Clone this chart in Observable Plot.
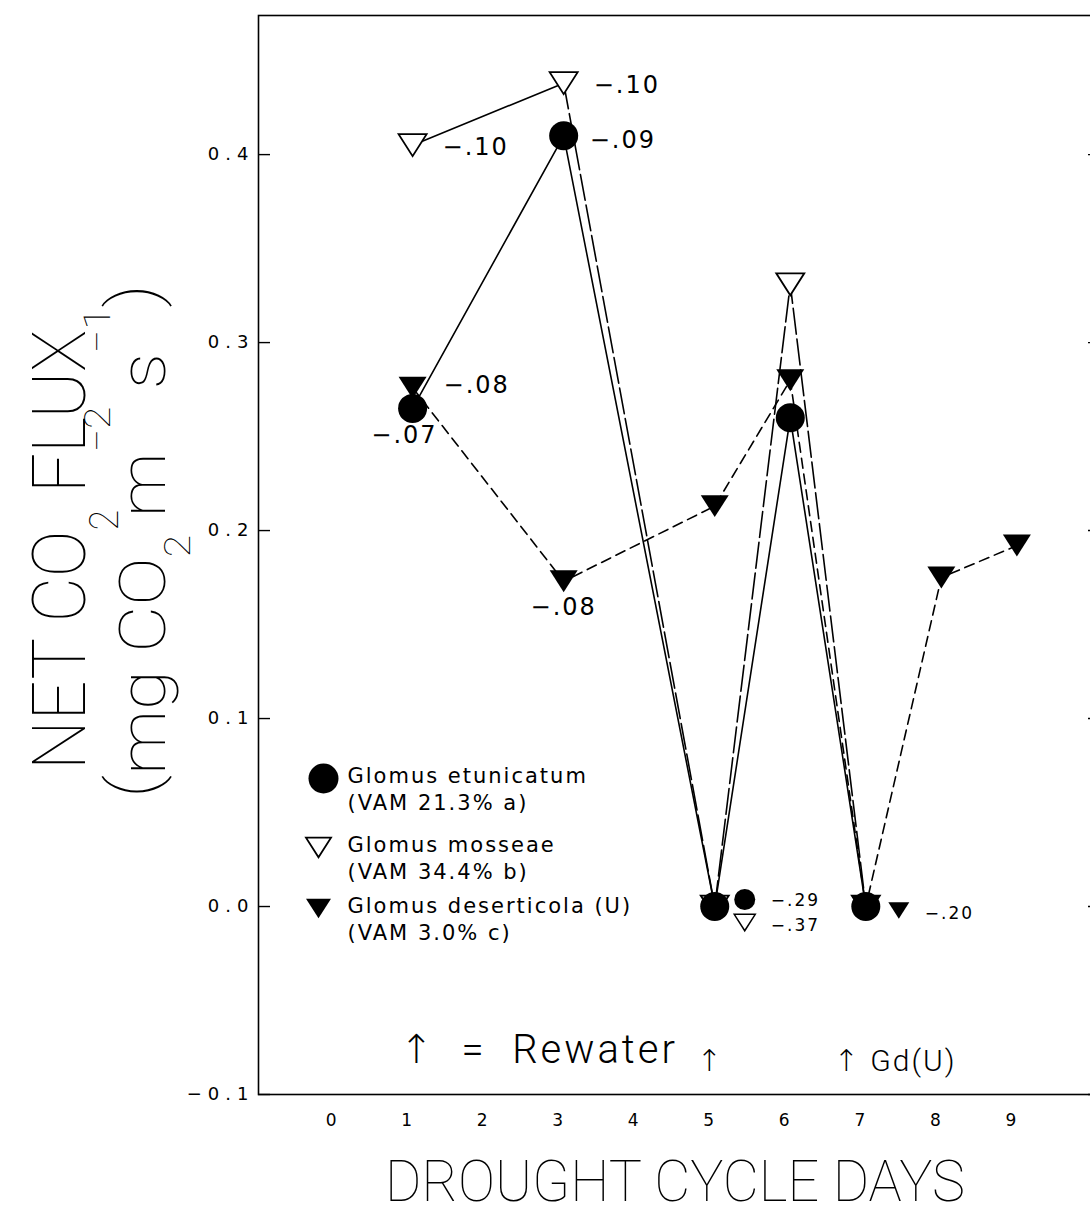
<!DOCTYPE html>
<html>
<head>
<meta charset="utf-8">
<script src="https://cdn.jsdelivr.net/npm/d3@7"></script>
<script src="https://cdn.jsdelivr.net/npm/@observablehq/plot@0.6"></script>
<style>
  html, body { margin: 0; padding: 0; background: #fff; overflow: hidden; }
  #chart svg { max-width: none !important; }
  #chart svg text { letter-spacing: 2px; }
</style>
</head>
<body>
<div id="chart"></div>
<script>
// Net CO2 flux over a drought cycle for three mycorrhizal inoculations.
// Numbers beside the symbols are leaf water potentials.

const seriesNames = ["Glomus etunicatum", "Glomus mosseae", "Glomus deserticola (U)"];
const vamNotes = ["(VAM 21.3% a)", "(VAM 34.4% b)", "(VAM 3.0% c)"];

const etunicatumDays = [1, 3, 5, 6, 7];
const etunicatumFlux = [0.265, 0.410, 0.0, 0.260, 0.0];
const etunicatumPsi  = ["−.07", "−.09", "−.29", null, null];

const mosseaeDays = [1, 3, 5, 6, 7];
const mosseaeFlux = [0.405, 0.438, 0.0, 0.331, 0.0];
const mosseaePsi  = ["−.10", "−.10", "−.37", null, null];

const deserticolaDays = [1, 3, 5, 6, 7, 8, 9];
const deserticolaFlux = [0.276, 0.173, 0.213, 0.280, 0.0, 0.175, 0.192];
const deserticolaPsi  = ["−.08", "−.08", null, null, "−.20", null, null];

const rewaterDays  = [5, 7];
const rewaterNotes = ["", "Gd(U)"];

const xTicks = [0, 1, 2, 3, 4, 5, 6, 7, 8, 9];
const yTicks = [-0.1, 0.0, 0.1, 0.2, 0.3, 0.4];

const toRows = (series, days, flux, psi) =>
  days.map((day, i) => ({series, day, flux: flux[i], psi: psi[i]}));

const etunicatum  = toRows(seriesNames[0], etunicatumDays, etunicatumFlux, etunicatumPsi);
const mosseae     = toRows(seriesNames[1], mosseaeDays, mosseaeFlux, mosseaePsi);
const deserticola = toRows(seriesNames[2], deserticolaDays, deserticolaFlux, deserticolaPsi);
const allRows = [...etunicatum, ...mosseae, ...deserticola];
const rewater = rewaterDays.map((day, i) => ({day, note: rewaterNotes[i]}));

// Downward-pointing triangle, sized from the dot radius.
const triangleDown = {
  draw(context, size) {
    const r = Math.sqrt(size / Math.PI);
    const h = r * 1.57;
    context.moveTo(-r, -h / 2);
    context.lineTo(r, -h / 2);
    context.lineTo(0, h / 2);
    context.closePath();
  }
};

const ink = "#000";
const lineWidth = 1.6;

// Styling for each series' symbol.
const symbolStyle = [
  {symbol: "circle", fill: ink, stroke: "none"},
  {symbol: triangleDown, fill: "#fff", stroke: ink, strokeWidth: 1.8},
  {symbol: triangleDown, fill: ink, stroke: "none"}
];

// Where each water-potential label sits relative to its point.
const labelPlacement = {
  "Glomus etunicatum|1":      {dx: 25, dy: 27, anchor: "end"},
  "Glomus etunicatum|3":      {dx: 26, dy: 5,  anchor: "start"},
  "Glomus mosseae|1":         {dx: 30, dy: 2,  anchor: "start"},
  "Glomus mosseae|3":         {dx: 30, dy: 2,  anchor: "start"},
  "Glomus deserticola (U)|1": {dx: 31, dy: -2, anchor: "start"},
  "Glomus deserticola (U)|3": {dx: 0,  dy: 26, anchor: "middle"}
};
// Points hidden behind the day-5 / day-7 circles get a small symbol beside them.
const besidePlacement = {
  "Glomus etunicatum|5":      {mdx: 30, mdy: -7, ldx: 56, ldy: -6},
  "Glomus mosseae|5":         {mdx: 30, mdy: 16, ldx: 56, ldy: 19},
  "Glomus deserticola (U)|7": {mdx: 33, mdy: 4,  ldx: 59, ldy: 7}
};

const findRow = key => {
  const [series, day] = key.split("|");
  return allRows.find(r => r.series === series && r.day === +day);
};
const seriesIndex = name => seriesNames.indexOf(name);

const labelMarks = Object.entries(labelPlacement).map(([key, p]) =>
  Plot.text([findRow(key)], {
    x: "day", y: "flux", text: "psi", dx: p.dx, dy: p.dy,
    textAnchor: p.anchor, fontSize: 24, fill: ink
  })
);

const besideMarks = Object.entries(besidePlacement).flatMap(([key, p]) => {
  const row = findRow(key);
  const st = symbolStyle[seriesIndex(row.series)];
  return [
    Plot.dot([row], {x: "day", y: "flux", dx: p.mdx, dy: p.mdy, r: 10.5, ...st,
      strokeWidth: st.stroke === "none" ? undefined : 1.5}),
    Plot.text([row], {x: "day", y: "flux", text: "psi", dx: p.ldx, dy: p.ldy,
      textAnchor: "start", fontSize: 17, fill: ink})
  ];
});

// Legend inside the lower-left corner of the frame.
const legendRowDy = [-316, -247, -186];
const legendMarks = seriesNames.flatMap((name, i) => {
  const st = symbolStyle[i];
  return [
    Plot.dot([name], {frameAnchor: "bottom-left", dx: i === 0 ? 65 : 60, dy: legendRowDy[i],
      r: i === 0 ? 15 : 12.5, ...st}),
    Plot.text([name], {frameAnchor: "bottom-left", dx: 89, dy: legendRowDy[i] + 4,
      text: d => d, textAnchor: "start", fontSize: 21, fill: ink}),
    Plot.text([vamNotes[i]], {frameAnchor: "bottom-left", dx: 89, dy: legendRowDy[i] + 31,
      text: d => d, textAnchor: "start", fontSize: 21, fill: ink})
  ];
});

const titleFont = "Roboto, 'DejaVu Sans', sans-serif";

// Rewater arrows beneath the curves.
const rewaterMarks = rewater.map(r =>
  Plot.text([r], {
    x: "day", frameAnchor: "bottom", dy: -24, dx: r.note ? -32 : -18,
    text: d => d.note ? "↑ " + d.note : "↑",
    textAnchor: "start", fontSize: 30, fontFamily: titleFont, fontWeight: 300, fill: ink
  })
);

const fmtTick = d => (d < 0 ? "−" : "") + Math.abs(d).toFixed(1);

const W = 1100, H = 1216;
const chart = Plot.plot({
  width: W,
  height: H,
  marginLeft: 258,
  marginRight: W - 1096,
  marginTop: 15,
  marginBottom: H - 1094,
  x: {domain: [-1.04, 10.054], label: null},
  y: {domain: [-0.1, 0.474], label: null},
  style: {fontFamily: "'DejaVu Sans', sans-serif", fontSize: "17px", color: ink, background: "#fff", overflow: "visible"},
  marks: [
    Plot.frame({stroke: ink, strokeWidth: 1.6}),
    Plot.axisY({anchor: "left", ticks: yTicks, tickSize: -12, tickPadding: 16,
      tickFormat: fmtTick, fontSize: 18, strokeWidth: 1.4}),
    Plot.axisY({anchor: "right", ticks: yTicks, tickSize: -9, tickFormat: () => "", strokeWidth: 1.4}),
    Plot.axisX({anchor: "bottom", ticks: xTicks, tickSize: 0, tickPadding: 19, dx: -6,
      tickFormat: d => String(d), fontSize: 17}),

    // connecting lines
    Plot.line(deserticola, {x: "day", y: "flux", stroke: ink, strokeWidth: lineWidth, strokeDasharray: "10,6"}),
    Plot.line(mosseae.filter(d => d.day <= 3), {x: "day", y: "flux", stroke: ink, strokeWidth: lineWidth}),
    Plot.line(mosseae.filter(d => d.day >= 3), {x: "day", y: "flux", stroke: ink, strokeWidth: lineWidth, strokeDasharray: "26,5"}),
    Plot.line(etunicatum, {x: "day", y: "flux", stroke: ink, strokeWidth: lineWidth}),

    // symbols
    Plot.dot(mosseae, {x: "day", y: "flux", r: 14, ...symbolStyle[1]}),
    Plot.dot(deserticola, {x: "day", y: "flux", r: 14, ...symbolStyle[2]}),
    Plot.dot(etunicatum, {x: "day", y: "flux", r: 14.5, ...symbolStyle[0]}),

    ...labelMarks,
    ...besideMarks,
    ...legendMarks,

    Plot.text(["↑  =  Rewater"], {frameAnchor: "bottom-left", dx: 141, dy: -32, text: d => d,
      textAnchor: "start", fontSize: 40, fontFamily: titleFont, fontWeight: 300, fill: ink}),
    ...rewaterMarks
  ]
});

document.getElementById("chart").appendChild(chart);

const svg = d3.select(chart);
svg.selectAll("g[aria-label='y-axis tick label'] text").style("letter-spacing", "6px");
svg.selectAll("g[aria-label='x-axis tick label'] text").style("letter-spacing", "0px");
svg.selectAll("text").filter(function() { return this.textContent.includes("Rewater"); })
  .style("letter-spacing", "3px");

// Axis titles, with sub- and superscripts.
const titles = svg.append("g")
  .attr("font-family", titleFont)
  .attr("font-weight", 100)
  .attr("fill", ink);

const yTitle1 = titles.append("text")
  .style("letter-spacing", "0px")
  .attr("transform", "translate(85,550) rotate(-90)")
  .attr("text-anchor", "middle")
  .attr("font-size", 74)
  .attr("textLength", 440)
  .attr("lengthAdjust", "spacingAndGlyphs");
yTitle1.append("tspan").text("NET CO");
yTitle1.append("tspan").attr("dy", 33).attr("font-size", 40).text("2");
yTitle1.append("tspan").attr("dy", -33).text(" FLUX");

const yTitle2 = titles.append("text")
  .style("letter-spacing", "0px")
  .attr("transform", "translate(165,541) rotate(-90)")
  .attr("text-anchor", "middle")
  .attr("font-size", 64)
  .attr("textLength", 514)
  .attr("lengthAdjust", "spacingAndGlyphs");
yTitle2.append("tspan").attr("font-size", 68).attr("dy", -9).text("(");
yTitle2.append("tspan").attr("dy", 9).text("mg CO");
yTitle2.append("tspan").attr("dy", 25).attr("font-size", 36).text("2");
yTitle2.append("tspan").attr("dy", -25).text(" m");
yTitle2.append("tspan").attr("dy", -55).attr("font-size", 36).text("−2");
yTitle2.append("tspan").attr("dy", 55).text(" s");
yTitle2.append("tspan").attr("dy", -55).attr("font-size", 36).text("−1");
yTitle2.append("tspan").attr("dy", 46).attr("font-size", 68).text(")");

titles.append("text")
  .style("letter-spacing", "0px")
  .attr("x", 675)
  .attr("y", 1201)
  .attr("text-anchor", "middle")
  .attr("font-size", 58)
  .attr("textLength", 580)
  .attr("lengthAdjust", "spacingAndGlyphs")
  .text("DROUGHT CYCLE DAYS");
</script>
</body>
</html>
